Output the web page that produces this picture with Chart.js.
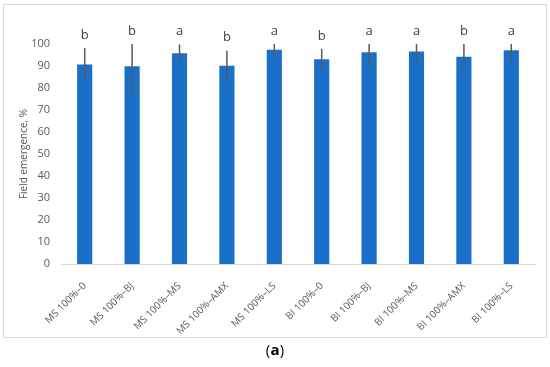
<!DOCTYPE html>
<html>
<head>
<meta charset="utf-8">
<script src="https://cdn.jsdelivr.net/npm/chart.js@4"></script>
<style>
html,body{margin:0;padding:0;background:#fff;}
#wrap{position:relative;width:550px;height:367px;}
</style>
</head>
<body>
<div id="wrap"><canvas id="c" width="550" height="367"></canvas></div>
<script>
const categories = ['MS 100%–0','MS 100%–BJ','MS 100%–MS','MS 100%–AMX','MS 100%–LS','BI 100%–0','BI 100%–BJ','BI 100%–MS','BI 100%–AMX','BI 100%–LS'];
const emergence = [90.7, 89.9, 95.8, 90.1, 97.4, 93.1, 96.3, 96.6, 94.2, 97.2];
const errors = [7.5, 13.3, 4.0, 7.0, 3.7, 4.7, 6.5, 4.8, 5.8, 5.1];
const letters = ['b','b','a','b','a','b','a','a','b','a'];
const yTicks = [0,10,20,30,40,50,60,70,80,90,100];

const FONT = "'Open Sans', 'Liberation Sans', sans-serif";

const extras = {
  id: 'extras',
  beforeDraw(chart) {
    const ctx = chart.ctx;
    ctx.save();
    ctx.fillStyle = '#fff';
    ctx.fillRect(0,0,chart.width,chart.height);
    ctx.strokeStyle = '#d9d9d9';
    ctx.lineWidth = 1;
    ctx.strokeRect(3.5, 4.5, 543, 333);
    ctx.restore();
  },
  afterDatasetsDraw(chart) {
    const ctx = chart.ctx;
    const meta = chart.getDatasetMeta(0);
    const y = chart.scales.y;
    const area = chart.chartArea;
    ctx.save();
    meta.data.forEach((bar, i) => {
      const top = Math.max(y.getPixelForValue(emergence[i] + errors[i]), area.top);
      const bot = y.getPixelForValue(emergence[i] - errors[i]);
      ctx.strokeStyle = '#595959';
      ctx.lineWidth = 1.5;
      ctx.beginPath();
      ctx.moveTo(bar.x, top);
      ctx.lineTo(bar.x, bot);
      ctx.stroke();
      ctx.fillStyle = '#404040';
      ctx.font = '13px ' + FONT;
      ctx.textAlign = 'center';
      ctx.textBaseline = 'middle';
      ctx.fillText(letters[i], bar.x, top - 13);
    });
    ctx.fillStyle = '#000';
    ctx.font = '15px ' + FONT;
    ctx.textAlign = 'center';
    ctx.textBaseline = 'middle';
    ctx.fillText('(', 268, 351);
    ctx.font = 'bold 15px ' + FONT;
    ctx.fillText('a', 275, 351);
    ctx.font = '15px ' + FONT;
    ctx.fillText(')', 282, 351);
    ctx.restore();
  }
};

new Chart(document.getElementById('c'), {
  type: 'bar',
  data: {
    labels: categories,
    datasets: [{
      data: emergence,
      backgroundColor: '#1a70c9',
      borderWidth: 0,
      categoryPercentage: 1,
      barPercentage: 0.32
    }]
  },
  options: {
    responsive: false,
    animation: false,
    devicePixelRatio: 1,
    layout: { padding: { left: 18, right: 15, top: 44, bottom: 0 } },
    plugins: { legend: { display: false }, tooltip: { enabled: false } },
    scales: {
      x: {
        grid: { display: false, drawTicks: false },
        border: { display: true, color: '#d9d9d9', width: 1 },
        ticks: { minRotation: 45, maxRotation: 45, autoSkip: false, color: '#595959', font: { family: FONT, size: 10 }, padding: 16 },
        afterFit(s) { s.height = 103; }
      },
      y: {
        min: 0, max: 100,
        afterBuildTicks(s) { s.ticks = yTicks.map(v => ({ value: v })); },
        grid: { display: false, drawTicks: false },
        border: { display: false },
        ticks: { color: '#595959', font: { family: FONT, size: 11 }, padding: 11 },
        title: { display: true, text: 'Field emergence, %', color: '#595959', font: { family: FONT, size: 10 }, padding: { top: 0, bottom: 4 } },
        afterFit(s) { s.width = 43; }
      }
    }
  },
  plugins: [extras]
});
</script>
</body>
</html>
